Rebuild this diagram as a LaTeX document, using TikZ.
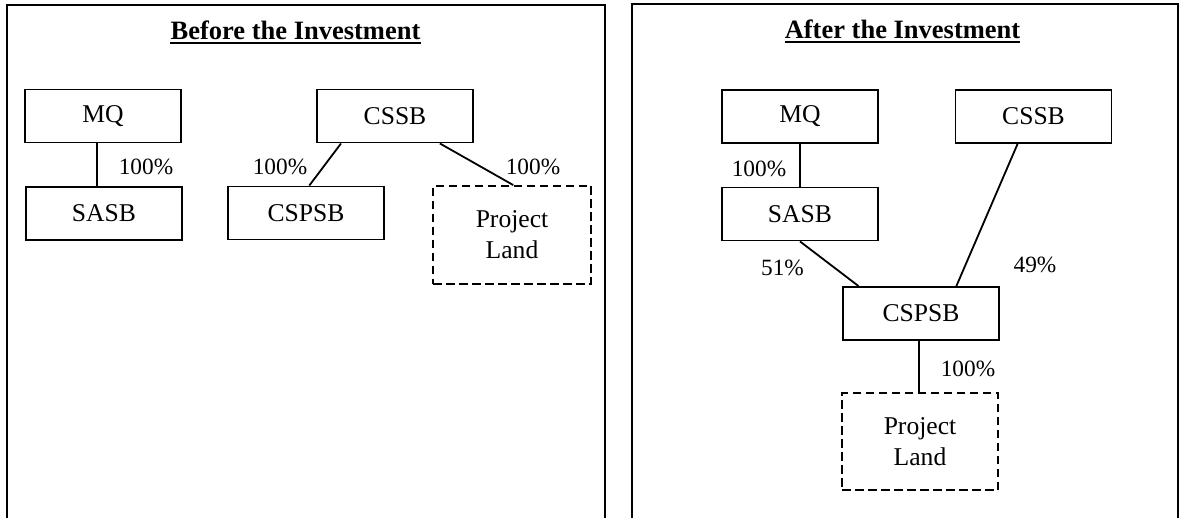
\documentclass[tikz,border=0pt]{standalone}
\usepackage{fontspec}
\setmainfont{Liberation Serif}
\usetikzlibrary{calc}
\begin{document}
\begin{tikzpicture}[x=1pt,y=-1pt,
  box/.style={draw,line width=1.9pt,minimum width=156pt,minimum height=53pt,inner sep=0pt,font=\fontsize{25.6}{30}\selectfont},
  landbox/.style={box,line width=1.8pt,dash pattern=on 8.5pt off 4.5pt,minimum height=97pt,align=center,font=\fontsize{25.6}{31}\selectfont},
  pct/.style={font=\fontsize{23.3}{28}\selectfont,inner sep=0pt},
  ttl/.style={font=\bfseries\fontsize{26.5}{30}\selectfont,inner sep=0pt,anchor=base},
  uline/.style={line width=1.4pt},
  link/.style={line width=1.8pt},
  thinlink/.style={line width=1.1pt},
  panel/.style={line width=1.5pt}]
\useasboundingbox (0,0) rectangle (1180,518);
\fill[white] (0,0) rectangle (1180,518);
% panels
\draw[panel] (7,518) -- (7,5) -- (605,5) -- (605,518);
\draw[panel] (632,518) -- (632,4) -- (1178,4) -- (1178,518);
% titles
\node[ttl] (ttlA) at (295.5,40) {Before the Investment};
\draw[uline] ([yshift=-3.2pt]ttlA.base west) -- ([yshift=-3.2pt]ttlA.base east);
\node[ttl] (ttlB) at (902.5,39) {After the Investment};
\draw[uline] ([yshift=-3.2pt]ttlB.base west) -- ([yshift=-3.2pt]ttlB.base east);
% ---- before ----
\node[box] (mqA) at (103,116) {MQ};
\node[box] (sasbA) at (104,213.5) {SASB};
\node[box] (cssbA) at (395,116) {CSSB};
\node[box] (cspsbA) at (306,213) {CSPSB};
\node[landbox] (plA) at (512,235) [minimum width=158pt,minimum height=98pt] {Project\\Land};
\coordinate (a1) at ($(mqA.south west)!0.463!(mqA.south east)$);
\draw[link] (a1) -- (a1 |- sasbA.north);
\draw[link] ($(cssbA.south west)!0.158!(cssbA.south east)$) -- ($(cspsbA.north west)!0.521!(cspsbA.north east)$);
\draw[link] ($(cssbA.south west)!0.784!(cssbA.south east)$) -- ($(plA.north west)!0.508!(plA.north east)$);
\node[pct] (pA1) at (146,167) {100\%};
\node[pct] (pA2) at (280,167) {100\%};
\node[pct] (pA3) at (533,167) {100\%};
% ---- after ----
\node[box] (mqB) at (800,116.5) {MQ};
\node[box] (sasbB) at (800,214) {SASB};
\node[box] (cssbB) at (1033.5,116.5) {CSSB};
\node[box] (cspsbB) at (921,313.5) {CSPSB};
\node[landbox] (plB) at (920,441.5) {Project\\Land};
\draw[thinlink] (mqB.south) -- (sasbB.north);
\draw[link] (sasbB.south) -- ($(cspsbB.north west)!0.104!(cspsbB.north east)$);
\draw[link] ($(cssbB.south west)!0.399!(cssbB.south east)$) -- ($(cspsbB.north west)!0.724!(cspsbB.north east)$);
\coordinate (b1) at ($(cspsbB.south west)!0.487!(cspsbB.south east)$);
\draw[link] (b1) -- (b1 |- plB.north);
\node[pct] (pB1) at (759,169) {100\%};
\node[pct] (pB2) at (782.5,268) {51\%};
\node[pct] (pB3) at (1035,265) {49\%};
\node[pct] (pB4) at (968,369) {100\%};
\end{tikzpicture}
\end{document}
